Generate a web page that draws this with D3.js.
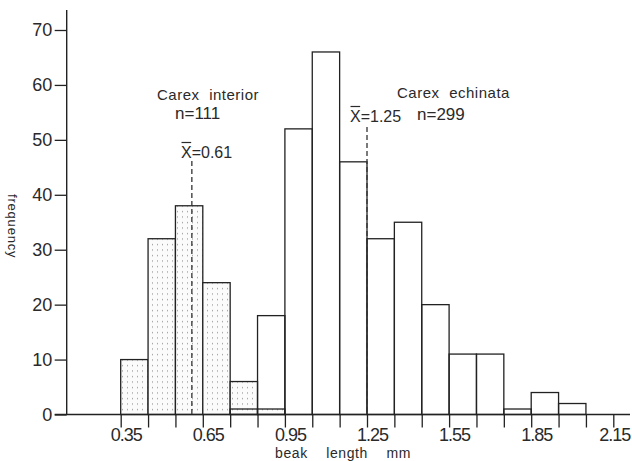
<!DOCTYPE html>
<html>
<head>
<meta charset="utf-8">
<script src="https://cdn.jsdelivr.net/npm/d3@7"></script>
<style>
  html, body { margin: 0; padding: 0; background: #fff; }
  svg { display: block; }
  text { font-family: "Liberation Sans", Arial, sans-serif; fill: #2a2a2a; }
</style>
</head>
<body>
<svg id="chart" width="632" height="461"></svg>
<script>
// Histogram bins of beak length (mm), 0.1 mm wide, labelled by lower edge
const binStarts = [0.35, 0.45, 0.55, 0.65, 0.75, 0.85, 0.95, 1.05, 1.15,
                   1.25, 1.35, 1.45, 1.55, 1.65, 1.75, 1.85, 1.95];
const binWidth = 0.1;

// Frequencies per bin for each species
const interiorCounts = [10, 32, 38, 24, 6, 1, 0, 0, 0, 0, 0, 0, 0, 0, 0, 0, 0];
const echinataCounts = [0, 0, 0, 0, 1, 18, 52, 66, 46, 32, 35, 20, 11, 11, 1, 4, 2];

// Sample sizes and means
const interiorN = 111, interiorMean = 0.61;
const echinataN = 299, echinataMean = 1.25;

// Axis ticks
const xMajorLabels = ["0.35", "0.65", "0.95", "1.25", "1.55", "1.85", "2.15"];
const yTicks = [0, 10, 20, 30, 40, 50, 60, 70];

const svg = d3.select("#chart");

const x = d3.scaleLinear().domain([0.35, 2.15]).range([120.7, 613.3]);
const y = d3.scaleLinear().domain([0, 70]).range([414.5, 30]);

// Stipple pattern for Carex interior bars
const defs = svg.append("defs");
const pat = defs.append("pattern")
  .attr("id", "stipple")
  .attr("patternUnits", "userSpaceOnUse")
  .attr("width", 5).attr("height", 5.5);
pat.append("rect").attr("width", 5).attr("height", 5.5).attr("fill", "#fbfbfb");
pat.append("rect").attr("x", 2).attr("y", 2).attr("width", 1).attr("height", 1.1)
  .attr("fill", "#8a8a8a");

const rows = binStarts.map((b, i) => ({ lo: b, hi: +(b + binWidth).toFixed(2),
  interior: interiorCounts[i], echinata: echinataCounts[i] }));

// Carex interior (stippled)
svg.append("g").selectAll("rect")
  .data(rows.filter(d => d.interior > 0))
  .join("rect")
  .attr("x", d => x(d.lo))
  .attr("y", d => y(d.interior))
  .attr("width", d => x(d.hi) - x(d.lo))
  .attr("height", d => y(0) - y(d.interior))
  .attr("fill", "url(#stipple)")
  .attr("stroke", "#222")
  .attr("stroke-width", 1.3);

// Carex echinata (open bars)
svg.append("g").selectAll("rect")
  .data(rows.filter(d => d.echinata > 0))
  .join("rect")
  .attr("x", d => x(d.lo))
  .attr("y", d => y(d.echinata))
  .attr("width", d => x(d.hi) - x(d.lo))
  .attr("height", d => y(0) - y(d.echinata))
  .attr("fill", "none")
  .attr("stroke", "#222")
  .attr("stroke-width", 1.3);

// Axes
const edges = d3.range(19).map(i => +(0.35 + i * 0.1).toFixed(2));
const xAxis = d3.axisBottom(x)
  .tickValues(edges)
  .tickSize(13)
  .tickPadding(1)
  .tickFormat(d => xMajorLabels.includes(d.toFixed(2)) ? d.toFixed(2) : "");
const gx = svg.append("g").attr("transform", `translate(0,${y(0)})`).call(xAxis);
gx.select(".domain").remove();
gx.selectAll(".tick line").attr("stroke", "#222").attr("stroke-width", 1.3);
gx.selectAll(".tick text")
  .attr("dx", (d, i, n) => i === n.length - 1 ? 1 : 5)
  .style("font-size", "18px")
  .style("letter-spacing", "-1px")
  .attr("fill", "#222");

const yAxis = d3.axisLeft(y).tickValues(yTicks).tickSize(12).tickPadding(2.5);
const gy = svg.append("g").attr("transform", `translate(66.7,0)`).call(yAxis);
gy.select(".domain").remove();
gy.selectAll(".tick line").attr("stroke", "#222").attr("stroke-width", 1.3);
gy.selectAll(".tick text").style("font-size", "18px").attr("fill", "#222");

// Axis lines
svg.append("line")
  .attr("x1", 54.7).attr("x2", 630)
  .attr("y1", y(0)).attr("y2", y(0))
  .attr("stroke", "#222").attr("stroke-width", 1.4);
svg.append("line")
  .attr("x1", 66.7).attr("x2", 66.7)
  .attr("y1", 10).attr("y2", y(0))
  .attr("stroke", "#222").attr("stroke-width", 1.4);

// Mean markers
function meanLine(v, top) {
  svg.append("line")
    .attr("x1", x(v)).attr("x2", x(v))
    .attr("y1", top).attr("y2", y(0))
    .attr("stroke", "#333").attr("stroke-width", 1.3)
    .attr("stroke-dasharray", "5,3");
}
meanLine(interiorMean, 161);
meanLine(echinataMean, 127);

function meanLabel(v, px, py) {
  const t = svg.append("text")
    .attr("x", px).attr("y", py)
    .style("font-size", "16px");
  t.append("tspan").text("X");
  t.append("tspan").text("=" + v.toFixed(2));
  const ext = t.node().getExtentOfChar(0);
  svg.append("line")
    .attr("x1", ext.x + 0.5).attr("x2", ext.x + ext.width - 0.5)
    .attr("y1", py - 15.5).attr("y2", py - 15.5)
    .attr("stroke", "#2a2a2a").attr("stroke-width", 1.2);
}
meanLabel(interiorMean, 181, 158);
meanLabel(echinataMean, 350, 122);

// Species labels
function speciesLabel(name, n, px, py, nx, ny) {
  svg.append("text")
    .attr("x", px).attr("y", py)
    .style("font-size", "15px")
    .style("letter-spacing", "0.5px")
    .style("word-spacing", "5px")
    .text(name);
  svg.append("text")
    .attr("x", nx).attr("y", ny)
    .style("font-size", "17px")
    .text("n=" + n);
}
speciesLabel("Carex interior", interiorN, 157, 100, 175, 119);
speciesLabel("Carex echinata", echinataN, 397, 98, 417, 120);

// Axis titles
svg.append("text")
  .attr("transform", "translate(8,194) rotate(90)")
  .style("font-size", "13px")
  .style("letter-spacing", "0.8px")
  .text("frequency");

svg.append("text")
  .attr("x", 275).attr("y", 458)
  .style("font-size", "14px")
  .style("letter-spacing", "0.6px")
  .style("word-spacing", "14px")
  .text("beak length mm");
</script>
</body>
</html>
